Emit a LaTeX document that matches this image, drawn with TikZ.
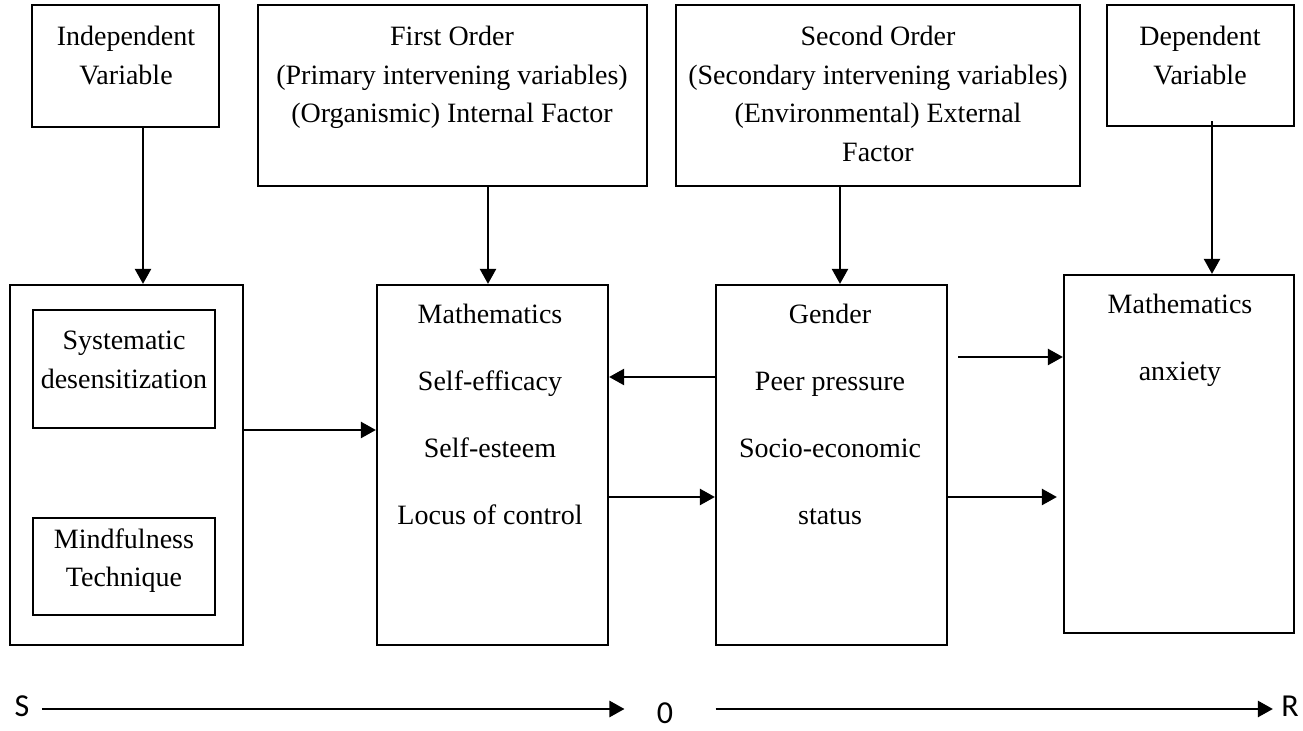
\documentclass[tikz,border=0pt]{standalone}
\usepackage{fontspec}
\setmainfont{Liberation Serif}
\newfontfamily\labelfont{Carlito}
\usetikzlibrary{arrows.meta}

\begin{document}
\begin{tikzpicture}[x=0.5pt, y=-0.5pt,
    box/.style={rectangle, draw, line width=1.1pt, inner sep=0pt},
    txt/.style={anchor=north, align=center, inner sep=0pt, font=\fontsize{14}{19.25}\selectfont},
    listtxt/.style={anchor=north, align=center, inner sep=0pt, font=\fontsize{14}{33.5}\selectfont},
    arr/.style={-{Triangle[length=7.5pt, width=8pt]}, line width=1.2pt},
    srlab/.style={inner sep=0pt, font=\labelfont\fontsize{16}{18}\selectfont}
]
    \useasboundingbox (0,0) rectangle (1303,731);

    % Row 1: Variable headings
    \node[box, minimum width=93.5pt, minimum height=61pt] (iv) at (125.5,66) {};
    \node[box, minimum width=194.5pt, minimum height=90.5pt] (first) at (452.5,95.5) {};
    \node[box, minimum width=202pt, minimum height=90.5pt] (second) at (878,95.5) {};
    \node[box, minimum width=93.5pt, minimum height=60.5pt] (dv) at (1200.5,65.5) {};
    \node[txt] at (126,26) {Independent\\Variable};
    \node[txt] at (452,26) {First Order\\(Primary intervening variables)\\(Organismic) Internal Factor};
    \node[txt] at (878,26) {Second Order\\(Secondary intervening variables)\\(Environmental) External\\Factor};
    \node[txt] at (1200,26) {Dependent\\Variable};

    % Row 2: Stimulus, organism, response
    \node[box, minimum width=116.5pt, minimum height=180pt] (stim) at (126.5,465) {};
    \node[box, minimum width=91pt, minimum height=59pt] (sd) at (124,369) {};
    \node[box, minimum width=91pt, minimum height=48.5pt] (mt) at (124,566.5) {};
    \node[box, minimum width=115.5pt, minimum height=180pt] (org) at (492.5,465) {};
    \node[box, minimum width=115.5pt, minimum height=180pt] (env) at (831.5,465) {};
    \node[box, minimum width=115pt, minimum height=179pt] (resp) at (1179,454) {};
    \node[txt] at (124,331) {Systematic\\desensitization};
    \node[txt] at (124,528) {Mindfulness\\Technique};
    \node[listtxt] at (490,304) {Mathematics\\Self-efficacy\\Self-esteem\\Locus of control};
    \node[listtxt] at (830,304) {Gender\\Peer pressure\\Socio-economic\\status};
    \node[listtxt] at (1180,294) {Mathematics\\anxiety};

    % Arrows from headings down
    \draw[arr] (iv.south -| 143,0) -- (stim.north -| 143,0);
    \draw[arr] (first.south -| 488,0) -- (org.north -| 488,0);
    \draw[arr] (second.south -| 840,0) -- (env.north -| 840,0);
    \draw[arr] ([yshift=3pt]dv.south -| 1212,0) -- (resp.north -| 1212,0);

    % Arrows between boxes
    \draw[arr] (stim.east |- 0,430) -- (org.west |- 0,430);
    \draw[arr] (env.west |- 0,377) -- (org.east |- 0,377);
    \draw[arr] (org.east |- 0,497) -- (env.west |- 0,497);
    \draw[arr, shorten <=5pt] (env.east |- 0,357) -- (resp.west |- 0,357);
    \draw[arr, shorten >=3pt] (env.east |- 0,497) -- (resp.west |- 0,497);

    % S - O - R line
    \node[srlab] (s) at (22,706) {S};
    \node[srlab] (o) at (665,713) {0};
    \node[srlab] (r) at (1290,706) {R};
    \draw[arr, shorten <=6pt, shorten >=16pt] (s.east |- 0,709) -- (o.west |- 0,709);
    \draw[arr, shorten <=21pt, shorten >=4pt] (o.east |- 0,709) -- (r.west |- 0,709);
\end{tikzpicture}
\end{document}
